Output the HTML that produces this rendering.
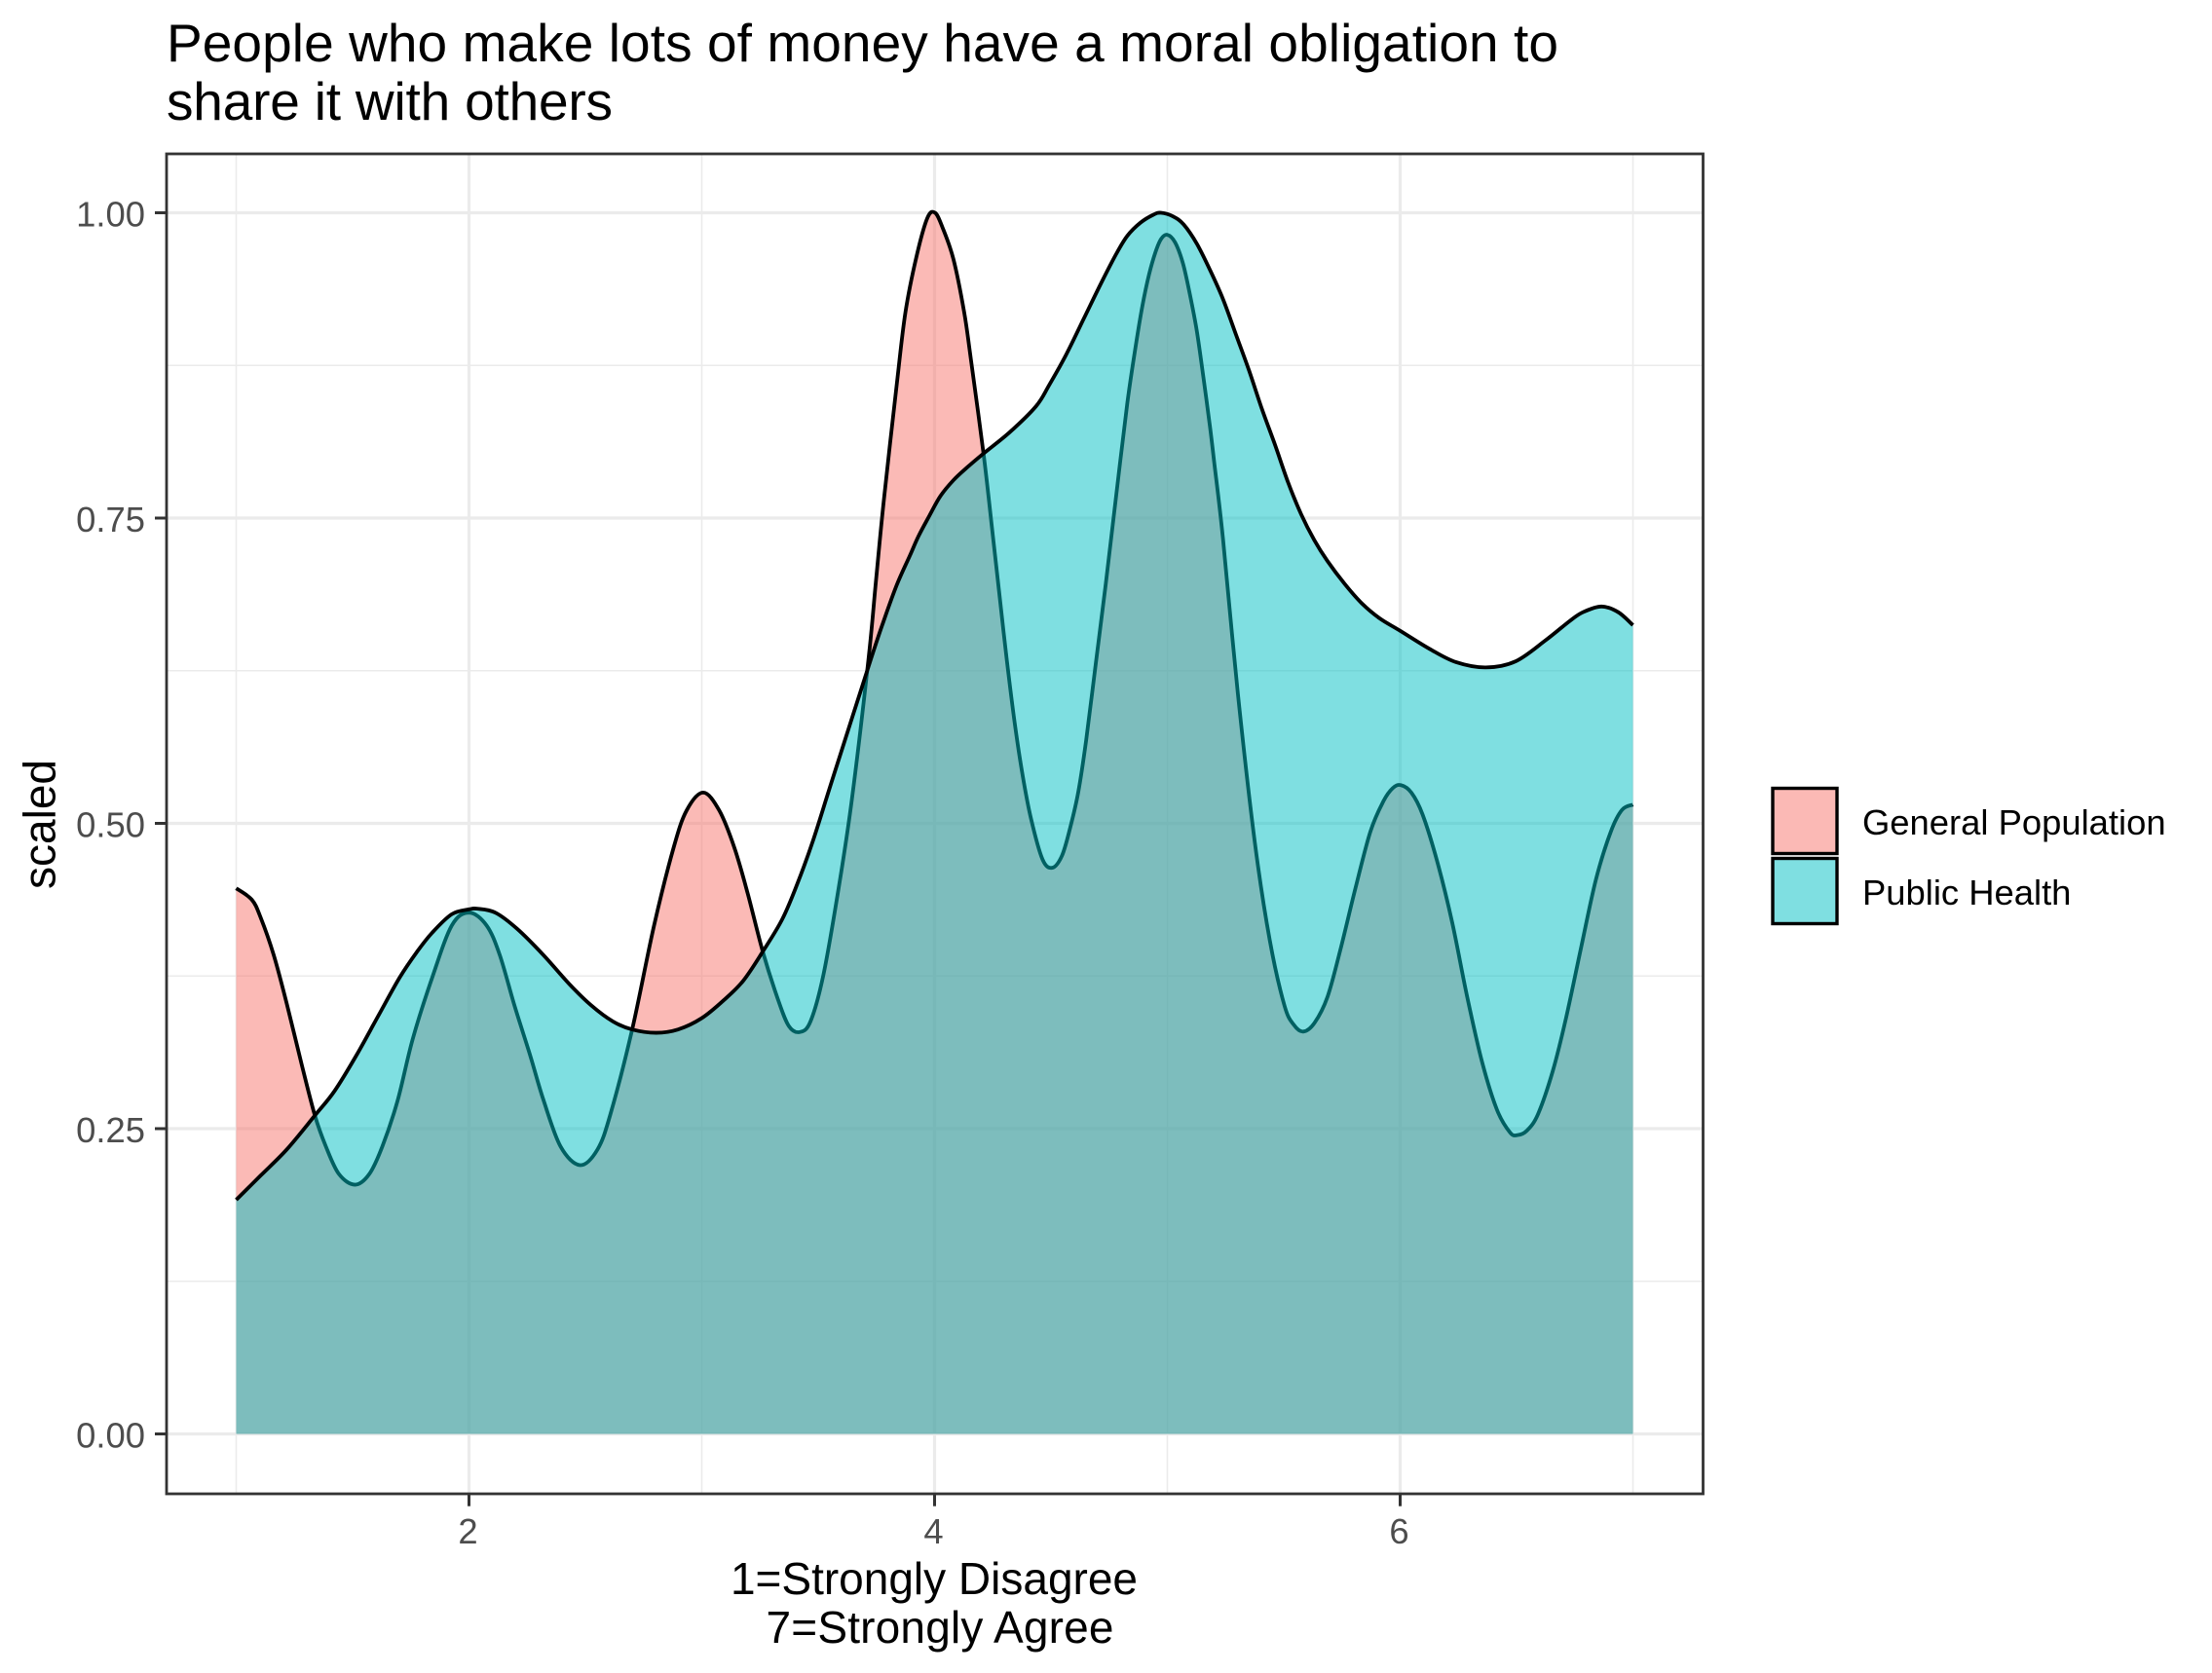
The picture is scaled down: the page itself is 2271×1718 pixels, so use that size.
<!DOCTYPE html>
<html lang="en">
<head>
<meta charset="utf-8">
<title>People who make lots of money have a moral obligation to share it with others</title>
<style>
html,body{margin:0;padding:0;background:#fff;}
svg{display:block;}
text{font-family:"Liberation Sans",Arial,sans-serif;}
</style>
</head>
<body>
<svg id="chart" xmlns="http://www.w3.org/2000/svg" width="2271" height="1718" viewBox="0 0 2271 1718">
  <rect x="0" y="0" width="2271" height="1718" fill="#ffffff"/>
  <text x="171" y="63" font-size="55" textLength="1429" fill="#000">People who make lots of money have a moral obligation to</text>
  <text x="171" y="123" font-size="55" textLength="458" fill="#000">share it with others</text>
  <g id="grid"></g>
  <g id="series"></g>
  <rect x="171" y="158" width="1577.5" height="1376" fill="none" stroke="#333333" stroke-width="2.8"/>
  <g id="axes"></g>
  <text x="959" y="1637" font-size="46" text-anchor="middle" fill="#000">1=Strongly Disagree</text>
  <text x="965" y="1687" font-size="46" text-anchor="middle" textLength="357" fill="#000">7=Strongly Agree</text>
  <text transform="translate(56.5 846.5) rotate(-90)" font-size="46" text-anchor="middle" fill="#000">scaled</text>
  <g>
    <g>
      <rect x="1820" y="809.5" width="66" height="67" fill="#fbb9b5" stroke="#000" stroke-width="3.4"/>
      <text x="1912" y="857" font-size="36.4" fill="#000">General Population</text>
    </g>
    <g>
      <rect x="1820" y="881.5" width="66" height="67" fill="#7fdfe1" stroke="#000" stroke-width="3.4"/>
      <text x="1912" y="929" font-size="36.4" fill="#000">Public Health</text>
    </g>
  </g>
</svg>
<script>
const xTickValues = [2, 4, 6];
const xMinorValues = [1, 3, 5, 7];
const yTickValues = [0, 0.25, 0.5, 0.75, 1];
const yTickLabels = ["0.00", "0.25", "0.50", "0.75", "1.00"];
const yMinorValues = [0.125, 0.375, 0.625, 0.875];

const generalX = [1.000,1.067,1.105,1.161,1.217,1.282,1.338,1.385,1.441,1.510,1.572,1.628,1.693,1.758,1.842,1.926,2.001,2.076,2.132,2.197,2.263,2.319,2.393,2.477,2.552,2.608,2.701,2.795,2.879,2.935,3.006,3.075,3.140,3.197,3.262,3.327,3.374,3.421,3.467,3.523,3.589,3.645,3.716,3.748,3.782,3.838,3.875,3.922,3.969,4.002,4.034,4.081,4.127,4.155,4.211,4.249,4.277,4.310,4.345,4.379,4.414,4.463,4.505,4.547,4.582,4.617,4.651,4.693,4.735,4.781,4.828,4.865,4.893,4.921,4.949,4.973,4.999,5.033,5.067,5.098,5.127,5.155,5.183,5.201,5.239,5.303,5.376,5.440,5.503,5.544,5.584,5.632,5.688,5.744,5.808,5.872,5.928,5.968,6.003,6.048,6.096,6.160,6.224,6.288,6.352,6.416,6.472,6.504,6.544,6.592,6.656,6.712,6.776,6.841,6.905,6.953,7.000];
const generalY = [.4468,.4375,.4229,.3923,.3525,.3020,.2608,.2355,.2129,.2041,.2129,.2355,.2727,.3232,.3737,.4163,.4269,.4163,.3923,.3498,.3099,.2740,.2355,.2201,.2329,.2621,.3312,.4163,.4801,.5106,.5252,.5106,.4801,.4428,.3950,.3560,.3340,.3291,.3378,.3764,.4482,.5199,.6342,.6980,.7645,.8602,.9187,.9639,.9957,1.000,.9880,.9620,.9187,.8814,.8017,.7379,.6901,.6342,.5811,.5385,.5040,.4708,.4636,.4734,.4960,.5253,.5678,.6316,.6954,.7698,.8442,.8921,.9240,.9492,.9678,.9785,.9820,.9758,.9585,.9320,.9027,.8650,.8250,.7960,.7330,.6060,.4840,.4042,.3508,.3348,.3295,.3366,.3580,.3971,.4469,.4932,.5181,.5288,.5313,.5252,.5074,.4682,.4184,.3579,.3045,.2654,.2469,.2447,.2483,.2618,.2974,.3401,.3971,.4540,.4932,.5110,.5153];

const healthX = [1.000,1.105,1.217,1.338,1.422,1.516,1.609,1.702,1.777,1.842,1.926,2.001,2.035,2.113,2.207,2.319,2.431,2.524,2.618,2.701,2.804,2.898,3.000,3.094,3.178,3.262,3.346,3.411,3.477,3.561,3.726,3.782,3.838,3.894,3.931,3.978,4.025,4.081,4.137,4.211,4.323,4.436,4.492,4.566,4.641,4.716,4.781,4.828,4.884,4.940,4.973,5.024,5.070,5.127,5.183,5.239,5.295,5.351,5.407,5.463,5.519,5.575,5.631,5.687,5.762,5.836,5.911,6.000,6.128,6.240,6.368,6.496,6.624,6.729,6.785,6.865,6.937,7.000];
const healthY = [.1917,.2116,.2329,.2608,.2807,.3099,.3419,.3737,.3949,.4105,.4256,.4296,.4301,.4269,.4136,.3923,.3684,.3511,.3378,.3312,.3285,.3312,.3405,.3551,.3711,.3950,.4216,.4508,.4854,.5359,.6342,.6661,.6954,.7193,.7352,.7520,.7680,.7810,.7910,.8030,.8203,.8416,.8588,.8841,.9133,.9426,.9665,.9811,.9918,.9984,1.000,.9971,.9904,.9745,.9532,.9293,.9001,.8708,.8389,.8097,.7790,.7530,.7320,.7150,.6960,.6800,.6680,.6577,.6427,.6320,.6277,.6327,.6498,.6658,.6729,.6776,.6729,.6623];

const SVG_NS = "http://www.w3.org/2000/svg";
const PANEL_LEFT = 171, PANEL_RIGHT = 1748.5, PANEL_TOP = 158, PANEL_BOTTOM = 1534;
function xScale(v) { return 242.5 + (v - 1) * 239; }
function yScale(v) { return 1472.5 - v * 1254; }

function smoothPath(xs, ys, moveFirst) {
  const pts = xs.map(function (x, i) { return [xScale(x), yScale(ys[i])]; });
  let d = (moveFirst ? "M" : "L") + pts[0][0].toFixed(2) + " " + pts[0][1].toFixed(2);
  for (let i = 0; i < pts.length - 1; i++) {
    const p0 = pts[Math.max(i - 1, 0)], p1 = pts[i], p2 = pts[i + 1], p3 = pts[Math.min(i + 2, pts.length - 1)];
    const t = 1 / 6;
    const c1x = p1[0] + (p2[0] - p0[0]) * t, c1y = p1[1] + (p2[1] - p0[1]) * t;
    const c2x = p2[0] - (p3[0] - p1[0]) * t, c2y = p2[1] - (p3[1] - p1[1]) * t;
    d += "C" + c1x.toFixed(2) + " " + c1y.toFixed(2) + " " + c2x.toFixed(2) + " " + c2y.toFixed(2) + " " + p2[0].toFixed(2) + " " + p2[1].toFixed(2);
  }
  return d;
}

const gridGroup = document.getElementById("grid");
const seriesGroup = document.getElementById("series");
const axesGroup = document.getElementById("axes");

yMinorValues.forEach(function (v) {
  const el = document.createElementNS(SVG_NS, "line");
  
  
  el.setAttribute("x1", PANEL_LEFT); el.setAttribute("x2", PANEL_RIGHT);
  el.setAttribute("y1", yScale(v)); el.setAttribute("y2", yScale(v));
  el.setAttribute("stroke", "#ebebeb"); el.setAttribute("stroke-width", "1.6");
  gridGroup.appendChild(el);
});
xMinorValues.forEach(function (v) {
  const el = document.createElementNS(SVG_NS, "line");
  
  
  el.setAttribute("y1", PANEL_TOP); el.setAttribute("y2", PANEL_BOTTOM);
  el.setAttribute("x1", xScale(v)); el.setAttribute("x2", xScale(v));
  el.setAttribute("stroke", "#ebebeb"); el.setAttribute("stroke-width", "1.6");
  gridGroup.appendChild(el);
});
yTickValues.forEach(function (v) {
  const el = document.createElementNS(SVG_NS, "line");
  
  
  el.setAttribute("x1", PANEL_LEFT); el.setAttribute("x2", PANEL_RIGHT);
  el.setAttribute("y1", yScale(v)); el.setAttribute("y2", yScale(v));
  el.setAttribute("stroke", "#ebebeb"); el.setAttribute("stroke-width", "3.2");
  gridGroup.appendChild(el);
});
xTickValues.forEach(function (v) {
  const el = document.createElementNS(SVG_NS, "line");
  
  
  el.setAttribute("y1", PANEL_TOP); el.setAttribute("y2", PANEL_BOTTOM);
  el.setAttribute("x1", xScale(v)); el.setAttribute("x2", xScale(v));
  el.setAttribute("stroke", "#ebebeb"); el.setAttribute("stroke-width", "3.2");
  gridGroup.appendChild(el);
});

function drawFill(xs, ys, color) {
  const last = xs.length - 1;
  const d = "M" + xScale(xs[0]) + " " + yScale(0) + smoothPath(xs, ys, false) + "L" + xScale(xs[last]) + " " + yScale(0) + "Z";
  const el = document.createElementNS(SVG_NS, "path");
  el.setAttribute("d", d);
  el.setAttribute("fill", color);
  el.setAttribute("fill-opacity", "0.5");
  el.setAttribute("stroke", "none");
  return el;
}
function drawLine(xs, ys) {
  const el = document.createElementNS(SVG_NS, "path");
  el.setAttribute("d", smoothPath(xs, ys, true));
  el.setAttribute("fill", "none");
  el.setAttribute("stroke", "#000000");
  el.setAttribute("stroke-width", "3.8");
  el.setAttribute("stroke-linejoin", "round");
  return el;
}

const generalFill = drawFill(generalX, generalY, "#F8766D");


seriesGroup.appendChild(generalFill);
const generalLine = drawLine(generalX, generalY);


seriesGroup.appendChild(generalLine);
const healthFill = drawFill(healthX, healthY, "#00BFC4");


seriesGroup.appendChild(healthFill);
const healthLine = drawLine(healthX, healthY);


seriesGroup.appendChild(healthLine);

yTickValues.forEach(function (v, i) {
  const tick = document.createElementNS(SVG_NS, "line");
  
  
  tick.setAttribute("x1", 159); tick.setAttribute("x2", PANEL_LEFT);
  tick.setAttribute("y1", yScale(v)); tick.setAttribute("y2", yScale(v));
  tick.setAttribute("stroke", "#333333"); tick.setAttribute("stroke-width", "3");
  axesGroup.appendChild(tick);
  const label = document.createElementNS(SVG_NS, "text");
  
  
  label.setAttribute("x", 149);
  label.setAttribute("y", yScale(v) + 14);
  label.setAttribute("text-anchor", "end");
  label.setAttribute("font-size", "36.4");
  label.setAttribute("fill", "#4d4d4d");
  label.textContent = yTickLabels[i];
  axesGroup.appendChild(label);
});
xTickValues.forEach(function (v) {
  const tick = document.createElementNS(SVG_NS, "line");
  
  
  tick.setAttribute("y1", PANEL_BOTTOM); tick.setAttribute("y2", 1546.7);
  tick.setAttribute("x1", xScale(v)); tick.setAttribute("x2", xScale(v));
  tick.setAttribute("stroke", "#333333"); tick.setAttribute("stroke-width", "3");
  axesGroup.appendChild(tick);
  const label = document.createElementNS(SVG_NS, "text");
  
  
  label.setAttribute("x", xScale(v) - 1);
  label.setAttribute("y", 1585);
  label.setAttribute("text-anchor", "middle");
  label.setAttribute("font-size", "36.4");
  label.setAttribute("fill", "#4d4d4d");
  label.textContent = String(v);
  axesGroup.appendChild(label);
});
</script>
</body>
</html>
